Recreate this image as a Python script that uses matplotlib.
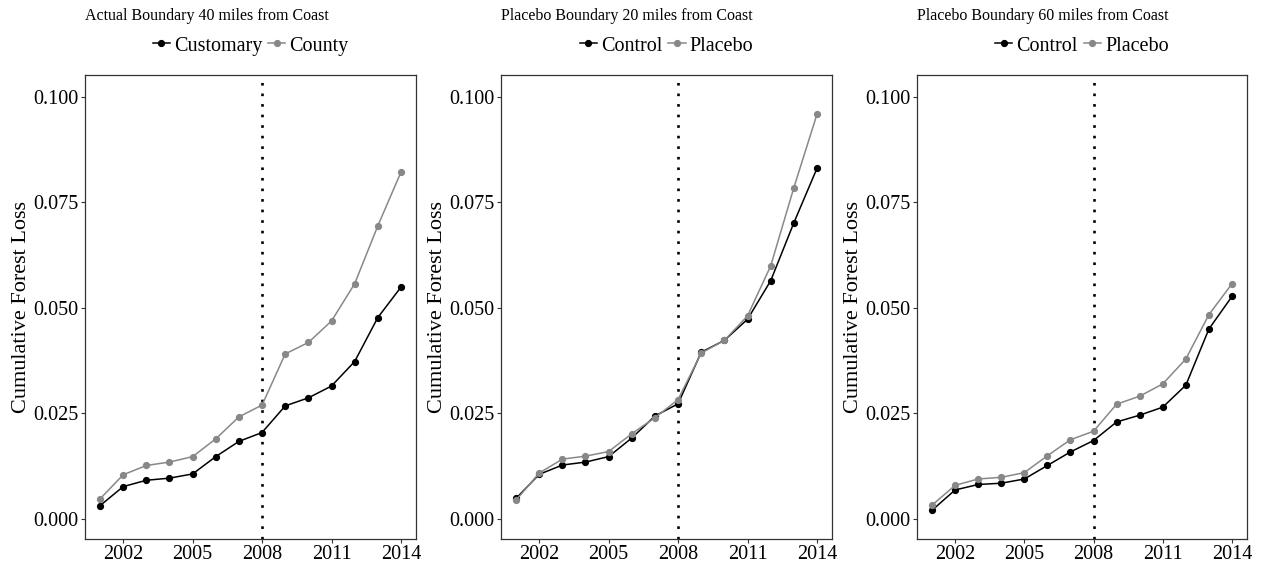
import numpy as np
import matplotlib
matplotlib.use("Agg")
import matplotlib.pyplot as plt
from matplotlib.lines import Line2D

plt.rcParams["font.family"] = ["Liberation Serif", "DejaVu Serif"]

years = list(range(2001, 2015))
xticks = [2002, 2005, 2008, 2011, 2014]
yticks = [0.000, 0.025, 0.050, 0.075, 0.100]
treat_year = 2008

titles = [
    "Actual Boundary 40 miles from Coast",
    "Placebo Boundary 20 miles from Coast",
    "Placebo Boundary 60 miles from Coast",
]
labels = [
    ("Customary", "County"),
    ("Control", "Placebo"),
    ("Control", "Placebo"),
]

# 40 miles (actual boundary)
customary_40 = [0.0032, 0.0077, 0.0092, 0.0097, 0.0107, 0.0148, 0.0184,
                0.0205, 0.0268, 0.0287, 0.0315, 0.0373, 0.0477, 0.0549]
county_40 = [0.0048, 0.0105, 0.0127, 0.0135, 0.0148, 0.0190, 0.0242,
             0.0270, 0.0391, 0.0418, 0.0469, 0.0557, 0.0694, 0.0821]

# 20 miles (placebo)
control_20 = [0.0049, 0.0106, 0.0128, 0.0135, 0.0148, 0.0192, 0.0244,
              0.0273, 0.0395, 0.0423, 0.0473, 0.0564, 0.0701, 0.0830]
placebo_20 = [0.0045, 0.0109, 0.0142, 0.0149, 0.0160, 0.0202, 0.0240,
              0.0283, 0.0393, 0.0423, 0.0481, 0.0599, 0.0784, 0.0958]

# 60 miles (placebo)
control_60 = [0.0021, 0.0069, 0.0082, 0.0085, 0.0095, 0.0127, 0.0159,
              0.0186, 0.0230, 0.0246, 0.0265, 0.0317, 0.0450, 0.0527]
placebo_60 = [0.0033, 0.0080, 0.0095, 0.0099, 0.0110, 0.0150, 0.0188,
              0.0208, 0.0272, 0.0291, 0.0320, 0.0379, 0.0484, 0.0557]

series = [(customary_40, county_40), (control_20, placebo_20), (control_60, placebo_60)]

W, H = 1265, 566
fig = plt.figure(figsize=(W / 100, H / 100), dpi=100)

# panel boxes in pixels: left, right
boxes = [(85, 416), (501, 832), (917, 1247)]
top_px, bot_px = 75, 539

dark = "#333333"
grey = "#888888"
ms = 4.2

for i, (l, r) in enumerate(boxes):
    ax = fig.add_axes([l / W, 1 - bot_px / H, (r - l) / W, (bot_px - top_px) / H])
    black_y, grey_y = series[i]
    ax.axvline(treat_year, color="black", lw=1.9, linestyle=(0, (1, 3)), zorder=1)
    ax.plot(years, black_y, color="black", lw=1.1, marker="o", ms=ms, zorder=3)
    ax.plot(years, grey_y, color=grey, lw=1.1, marker="o", ms=ms, zorder=4)

    ax.set_xlim(2000.35, 2014.65)
    ax.set_ylim(-0.0047, 0.1051)
    ax.set_xticks(xticks)
    ax.set_yticks(yticks)
    ax.set_yticklabels([f"{v:.3f}" for v in yticks])
    ax.tick_params(labelsize=14.5, length=3, width=0.8, color=dark, pad=1.5, labelcolor="black")
    for s in ax.spines.values():
        s.set_color(dark)
        s.set_linewidth(0.9)
    ax.set_ylabel("Cumulative Forest Loss", fontsize=16, labelpad=2)

    fig.text(l / W, 1 - 16 / H, titles[i], ha="left", va="center", fontsize=11.5)

    handles = [
        Line2D([], [], color="black", lw=1.1, marker="o", ms=ms),
        Line2D([], [], color=grey, lw=1.1, marker="o", ms=ms),
    ]
    fig.legend(handles, labels[i], loc="center", ncol=2, frameon=False,
               bbox_to_anchor=((l + r) / 2 / W, 1 - 46 / H),
               fontsize=14.5, handlelength=0.85, handletextpad=0.2,
               columnspacing=0.3, borderpad=0, borderaxespad=0)

fig.savefig("out.png", dpi=100)
